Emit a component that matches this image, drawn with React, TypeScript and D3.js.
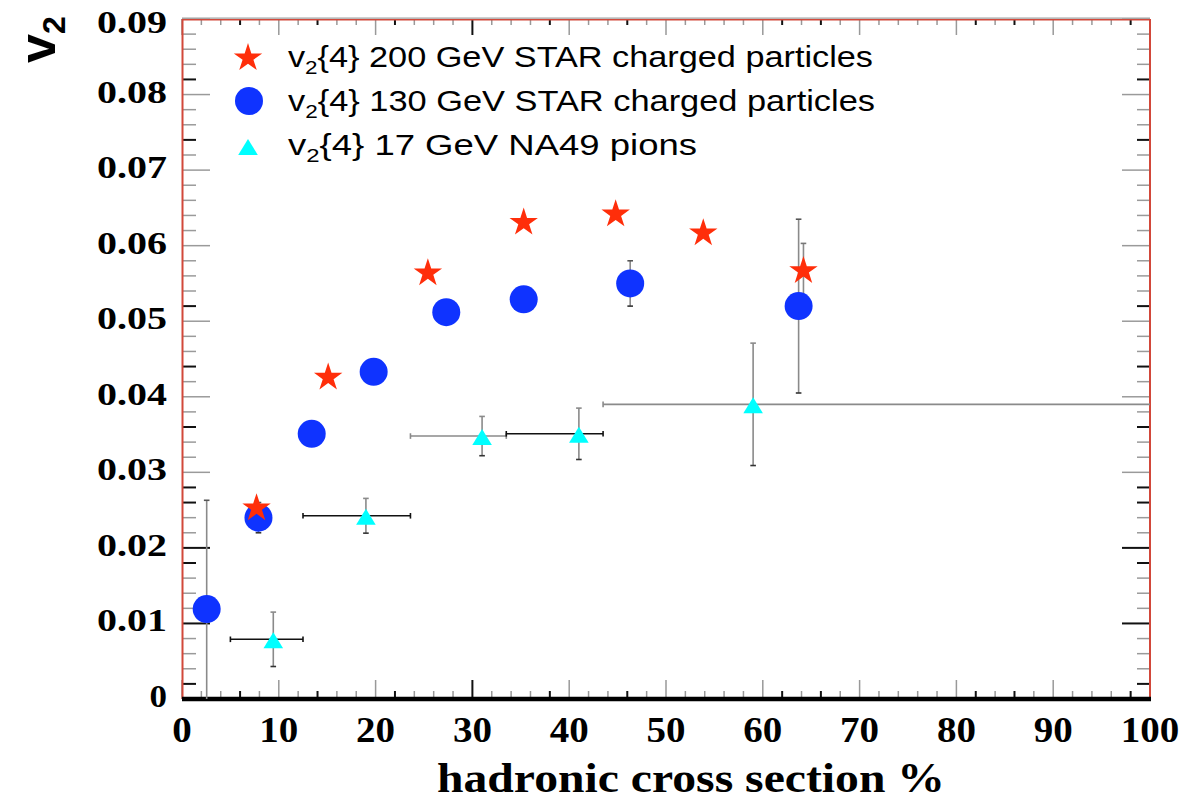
import React from 'react';
import * as d3 from 'd3';

// ---- data ----
const star200X = [7.7, 15.1, 25.4, 35.3, 44.8, 53.85, 64.2];
const star200Y = [0.0254, 0.0427, 0.0565, 0.0632, 0.0643, 0.0618, 0.0568];
const star200YErr = [0, 0, 0, 0, 0, 0, 0.0035];

const circle130X = [2.55, 7.9, 13.4, 19.8, 27.3, 35.3, 46.3, 63.7];
const circle130Y = [0.0119, 0.024, 0.0351, 0.0433, 0.0512, 0.0529, 0.055, 0.052];
const circle130YErr = [0.0144, 0.002, 0, 0, 0, 0, 0.003, 0.0115];

const tri17X = [9.43, 19.0, 31.0, 41.0, 59.0];
const tri17Y = [0.0079, 0.02425, 0.0348, 0.0351, 0.039];
const tri17XLo = [5.0, 12.5, 23.6, 33.5, 43.5];
const tri17XHi = [12.5, 23.6, 33.5, 43.5, 100];
const tri17YErr = [0.0036, 0.0023, 0.0026, 0.0034, 0.0081];

const xTickLabels = [0, 10, 20, 30, 40, 50, 60, 70, 80, 90, 100];
const yTickLabels = [0, 0.01, 0.02, 0.03, 0.04, 0.05, 0.06, 0.07, 0.08, 0.09];
const xDarkTicks = [6, 14, 22, 30, 38, 46, 62, 66, 82, 86, 98];
const yDarkTicks = [0.002, 0.01, 0.018, 0.02, 0.026, 0.028, 0.036, 0.044, 0.052, 0.074, 0.082];

const legendLabels = [
  { main: 'v', sub: '2', rest: '{4} 200 GeV STAR charged particles' },
  { main: 'v', sub: '2', rest: '{4} 130 GeV STAR charged particles' },
  { main: 'v', sub: '2', rest: '{4} 17 GeV NA49 pions' },
];

// ---- styles ----
const RED = '#ff2e0a';
const BLUE = '#0f33ff';
const CYAN = '#00ffff';
const GRAY = '#8a8a8a';
const FRAME_RED = '#d2483a';
const SERIF = "'Liberation Serif', 'Times New Roman', serif";
const SANS = "'Liberation Sans', Arial, Helvetica, sans-serif";
const triXBarColors = ['#111', '#111', GRAY, '#111', GRAY];

const W = 1187;
const H = 800;
const x = d3.scaleLinear().domain([0, 100]).range([182, 1150]);
const y = d3.scaleLinear().domain([0, 0.09]).range([699, 19]);

const rootTriangle = {
  draw(ctx: any, size: number) {
    const w = Math.sqrt(size * 1.2);
    const h = w * 0.82;
    ctx.moveTo(0, -h / 2);
    ctx.lineTo(w / 2, h / 2);
    ctx.lineTo(-w / 2, h / 2);
    ctx.closePath();
  },
};

const starPath = d3.symbol().type(d3.symbolStar).size(250)() as string;
const circlePath = d3.symbol().type(d3.symbolCircle).size(Math.PI * 14 * 14)() as string;
const triPath = d3.symbol().type(rootTriangle as any).size(320)() as string;

const near = (a: number, b: number) => Math.abs(a - b) < 1e-6;

export default function App() {
  const xMinor = d3.range(0, 51).map((k) => k * 2);
  const yMinor = d3.range(0, 46).map((k) => k * 0.002);
  const isXMajor = (v: number) => v % 10 === 0;
  const isYMajor = (v: number) => near(Math.round(v * 1000) % 10, 0);
  const isXDark = (v: number) => xDarkTicks.some((d) => near(d, v));
  const isYDark = (v: number) => yDarkTicks.some((d) => near(d, v));

  const x0 = x(0);
  const x1 = x(100);
  const yTop = y(0.09);
  const yBot = y(0);

  const cap = 2.8;

  return (
    <svg width={W} height={H} style={{ position: 'absolute', left: 0, top: 0, background: '#fff' }}>
      <rect x={0} y={0} width={W} height={H} fill="#fff" />

      {/* bottom & top ticks */}
      {xMinor.map((v) => {
        const dark = isXDark(v);
        const major = isXMajor(v);
        const col = dark ? '#111' : '#999';
        const lb = major ? 19 : 8;
        const lt = major ? 16 : 6;
        return (
          <g key={'xt' + v}>
            <line x1={x(v)} x2={x(v)} y1={yBot} y2={yBot - lb} stroke={col} strokeWidth={dark ? 2 : 1.5} />
            <line x1={x(v)} x2={x(v)} y1={yTop} y2={yTop + lt} stroke={col} strokeWidth={dark ? 2 : 1.5} />
          </g>
        );
      })}
      {/* left & right ticks */}
      {yMinor.map((v, i) => {
        const dark = isYDark(v);
        const major = isYMajor(v);
        const col = dark ? '#111' : '#9a9a9a';
        const ll = major ? 28 : 14;
        const lr = major ? 28 : 13;
        return (
          <g key={'yt' + i}>
            <line x1={x0} x2={x0 + ll} y1={y(v)} y2={y(v)} stroke={col} strokeWidth={dark ? 2 : 1.5} />
            <line x1={x1} x2={x1 - lr} y1={y(v)} y2={y(v)} stroke={col} strokeWidth={dark ? 2 : 1.5} />
          </g>
        );
      })}

      {/* frame */}
      <line x1={x0} x2={x1} y1={yTop - 0.8} y2={yTop - 0.8} stroke="#a0a0a0" strokeWidth={1.3} />
      <line x1={x0} x2={x1} y1={yTop + 0.7} y2={yTop + 0.7} stroke={FRAME_RED} strokeWidth={1.4} />
      <line x1={x0 + 0.5} x2={x0 + 0.5} y1={yTop} y2={yBot} stroke={FRAME_RED} strokeWidth={2} />
      <line x1={x1} x2={x1} y1={yTop} y2={yBot} stroke={FRAME_RED} strokeWidth={2} />
      <line x1={x0} x2={x1 + 1} y1={yBot} y2={yBot} stroke="#000" strokeWidth={4.5} />

      {/* tick labels */}
      {xTickLabels.map((v) => {
        const s = String(v);
        return (
          <text key={'xl' + v} x={x(v)} y={742} textAnchor="middle" fontFamily={SERIF} fontWeight="bold" fontSize={35}
            textLength={s.length * 19.5} lengthAdjust="spacingAndGlyphs">{s}</text>
        );
      })}
      {yTickLabels.map((v, i) => {
        const s = v === 0 ? '0' : v.toFixed(2);
        const isTop = i === yTickLabels.length - 1;
        return (
          <text key={'yl' + v} x={167} y={isTop ? 33 : y(v) + 8} textAnchor="end" fontFamily={SERIF} fontWeight="bold" fontSize={32}
            textLength={s === '0' ? 17.5 : 70} lengthAdjust="spacingAndGlyphs">{s}</text>
        );
      })}

      {/* axis titles */}
      <text x={437} y={792} fontFamily={SERIF} fontWeight="bold" fontSize={42} textLength={508} lengthAdjust="spacingAndGlyphs">
        hadronic cross section %
      </text>
      <text transform="translate(55,63) rotate(-90)" fontFamily={SANS} fontWeight="bold" fontSize={52}>
        <tspan>v</tspan>
        <tspan fontSize={32} dy={10}>2</tspan>
      </text>

      {/* error bars: triangles */}
      {tri17X.map((xv, i) => {
        const yc = y(tri17Y[i]);
        const xl = x(tri17XLo[i]);
        const xr = x(tri17XHi[i]);
        const yt = y(tri17Y[i] + tri17YErr[i]);
        const yb = y(tri17Y[i] - tri17YErr[i]);
        const hc = triXBarColors[i];
        return (
          <g key={'te' + i}>
            <line x1={xl} x2={xr} y1={yc} y2={yc} stroke={hc} strokeWidth={1.6} />
            <line x1={xl} x2={xl} y1={yc - cap} y2={yc + cap} stroke={hc} strokeWidth={1.6} />
            {tri17XHi[i] < 100 && <line x1={xr} x2={xr} y1={yc - cap} y2={yc + cap} stroke={hc} strokeWidth={1.6} />}
            <line x1={x(xv)} x2={x(xv)} y1={yt} y2={yb} stroke={GRAY} strokeWidth={1.6} />
            <line x1={x(xv) - cap} x2={x(xv) + cap} y1={yt} y2={yt} stroke={GRAY} strokeWidth={1.6} />
            <line x1={x(xv) - cap} x2={x(xv) + cap} y1={yb} y2={yb} stroke="#333" strokeWidth={1.6} />
          </g>
        );
      })}
      {/* error bars: circles */}
      {circle130X.map((xv, i) => {
        if (!circle130YErr[i]) return null;
        const lo = Math.max(0, circle130Y[i] - circle130YErr[i]);
        const yt = y(circle130Y[i] + circle130YErr[i]);
        const yb = y(lo);
        return (
          <g key={'ce' + i}>
            <line x1={x(xv)} x2={x(xv)} y1={yt} y2={yb} stroke={GRAY} strokeWidth={1.6} />
            <line x1={x(xv) - cap} x2={x(xv) + cap} y1={yt} y2={yt} stroke="#555" strokeWidth={1.6} />
            {lo > 0 && <line x1={x(xv) - cap} x2={x(xv) + cap} y1={yb} y2={yb} stroke="#333" strokeWidth={1.6} />}
          </g>
        );
      })}
      {/* error bars: stars */}
      {star200X.map((xv, i) => {
        if (!star200YErr[i]) return null;
        const yt = y(star200Y[i] + star200YErr[i]);
        const yb = y(star200Y[i] - star200YErr[i]);
        return (
          <g key={'se' + i}>
            <line x1={x(xv)} x2={x(xv)} y1={yt} y2={yb} stroke={GRAY} strokeWidth={1.6} />
            <line x1={x(xv) - cap} x2={x(xv) + cap} y1={yt} y2={yt} stroke="#777" strokeWidth={1.6} />
            <line x1={x(xv) - cap} x2={x(xv) + cap} y1={yb} y2={yb} stroke="#333" strokeWidth={1.6} />
          </g>
        );
      })}

      {/* markers */}
      {tri17X.map((xv, i) => (
        <path key={'tm' + i} d={triPath} transform={`translate(${x(xv)},${y(tri17Y[i]) + 1})`} fill={CYAN} />
      ))}
      {circle130X.map((xv, i) => (
        <path key={'cm' + i} d={circlePath} transform={`translate(${x(xv)},${y(circle130Y[i])})`} fill={BLUE} />
      ))}
      {star200X.map((xv, i) => (
        <path key={'sm' + i} d={starPath} transform={`translate(${x(xv)},${y(star200Y[i]) + 1})`} fill={RED} />
      ))}

      {/* legend */}
      <path d={starPath} transform="translate(248,58)" fill={RED} />
      <path d={circlePath} transform="translate(249,101)" fill={BLUE} />
      <path d={triPath} transform="translate(248,147)" fill={CYAN} />
      {legendLabels.map((l, i) => (
        <text key={'lg' + i} x={288} y={67 + i * 44} fontFamily={SANS} fontSize={29}
          textLength={[585, 587, 409][i]} lengthAdjust="spacingAndGlyphs">
          <tspan>{l.main}</tspan>
          <tspan fontSize={19} dy={7}>{l.sub}</tspan>
          <tspan dy={-7}>{l.rest}</tspan>
        </text>
      ))}
    </svg>
  );
}
